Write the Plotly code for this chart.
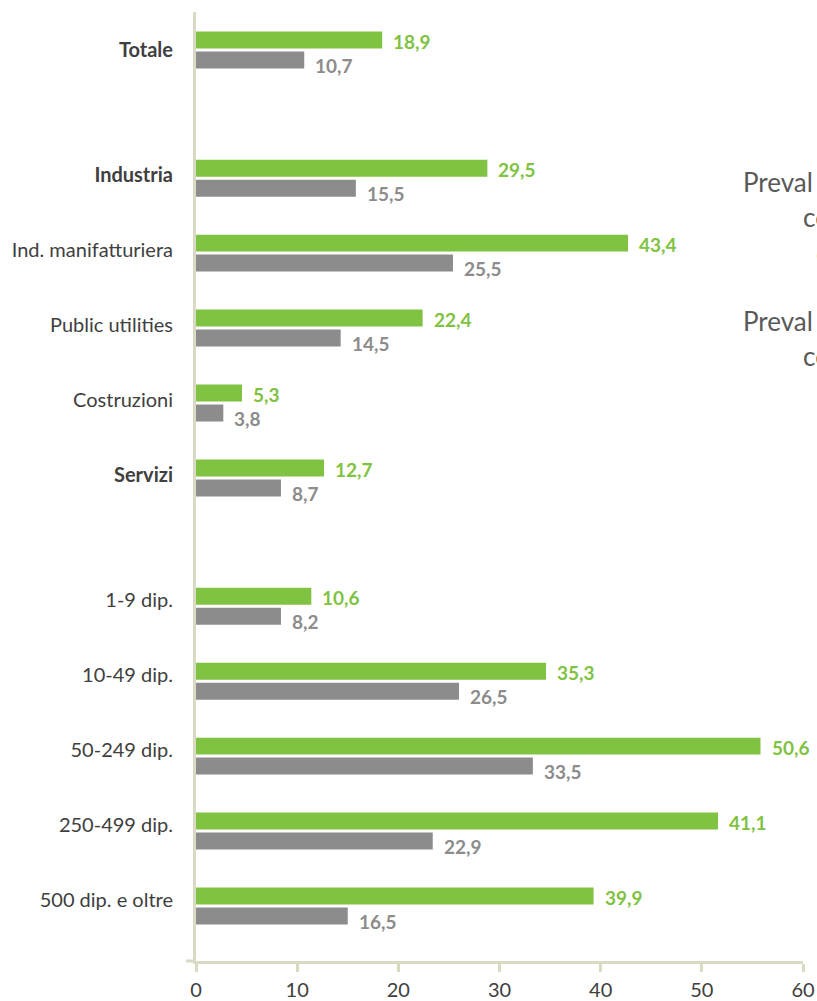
import plotly.graph_objects as go

# ---------------- data ----------------
categories = ["Totale", "Industria", "Ind. manifatturiera", "Public utilities", "Costruzioni",
              "Servizi", "1-9 dip.", "10-49 dip.", "50-249 dip.", "250-499 dip.", "500 dip. e oltre"]
bold_category = [True, True, False, False, False, True, False, False, False, False, False]
group_id = [0, 1, 1, 1, 1, 1, 2, 2, 2, 2, 2]

# bar lengths as drawn in the picture
green_values = [18.4, 28.8, 42.7, 22.4, 4.55, 12.65, 11.4, 34.6, 55.8, 51.6, 39.3]
gray_values = [10.7, 15.8, 25.4, 14.3, 2.7, 8.4, 8.4, 26.0, 33.3, 23.4, 15.0]

# data labels as printed in the picture
green_labels = ["18,9", "29,5", "43,4", "22,4", "5,3", "12,7", "10,6", "35,3", "50,6", "41,1", "39,9"]
gray_labels = ["10,7", "15,5", "25,5", "14,5", "3,8", "8,7", "8,2", "26,5", "33,5", "22,9", "16,5"]

x_ticks = [0, 10, 20, 30, 40, 50, 60]

# side legend text, cut by the right border of the picture
side_text_1 = ["Preval", "co", "o"]
side_text_2 = ["Preval", "co"]

# ---------------- styling ----------------
GREEN = "#80C241"
GRAY = "#8C8C8C"
AXIS = "#D9D9C4"
TEXT = "#404040"
FONT = "Lato"

# positions along the category axis (groups separated by a larger step)
def positions(step_between_groups):
    out, p = [], 0.0
    for i, g in enumerate(group_id):
        if i > 0:
            p += step_between_groups if g != group_id[i - 1] else 1.0
        out.append(p)
    return out

bar_pos = positions(1.71)
label_pos = positions(5.0 / 3.0)

fig = go.Figure()
fig.add_trace(go.Bar(orientation="h", y=bar_pos, x=green_values, marker_color=GREEN,
                     marker_line_width=0, hoverinfo="skip"))
fig.add_trace(go.Bar(orientation="h", y=bar_pos, x=gray_values, marker_color=GRAY,
                     marker_line_width=0, hoverinfo="skip"))

annotations = []
half = 0.153
for p, gv, gl, hv, hl in zip(bar_pos, green_values, green_labels, gray_values, gray_labels):
    annotations.append(dict(x=gv, y=p - half, xref="x", yref="y", text="<b>%s</b>" % gl,
                            showarrow=False, xanchor="left", yanchor="middle", xshift=9, yshift=-3,
                            font=dict(family=FONT, size=19, color=GREEN)))
    annotations.append(dict(x=hv, y=p + half, xref="x", yref="y", text="<b>%s</b>" % hl,
                            showarrow=False, xanchor="left", yanchor="middle", xshift=9, yshift=-4,
                            font=dict(family=FONT, size=19, color=GRAY)))

L, R, T, B = 196, 803, 12, 961.5
def px_x(px):
    return (px - L) / (R - L)
def px_y(py):
    return (B - py) / (B - T)

for txt, (x0, yc) in zip(side_text_1, [(741, 182), (801, 217), (814, 253)]):
    annotations.append(dict(x=px_x(x0), y=px_y(yc), xref="paper", yref="paper", text=txt,
                            showarrow=False, xanchor="left", yanchor="middle",
                            font=dict(family=FONT, size=26, color="#595959")))
for txt, (x0, yc) in zip(side_text_2, [(741, 321), (801, 356)]):
    annotations.append(dict(x=px_x(x0), y=px_y(yc), xref="paper", yref="paper", text=txt,
                            showarrow=False, xanchor="left", yanchor="middle",
                            font=dict(family=FONT, size=26, color="#595959")))

ticktext = ["<b>%s</b>" % c if b else c for c, b in zip(categories, bold_category)]

top_pad = (50 - T) / 75.0
bottom_pad = (B - 50) / 75.0

fig.update_layout(
    width=817, height=1001,
    margin=dict(l=L, r=817 - R, t=T, b=1001 - B, autoexpand=False),
    paper_bgcolor="white", plot_bgcolor="white",
    barmode="group", bargap=0.467, bargroupgap=0.15,
    showlegend=False,
    annotations=annotations,
    xaxis=dict(range=[0, 60], tickvals=x_ticks, ticktext=[str(v) for v in x_ticks],
               showgrid=False, zeroline=False, showline=True, linecolor=AXIS, linewidth=3,
               ticks="outside", ticklen=8, tickwidth=3, tickcolor=AXIS, automargin=False,
               tickfont=dict(family=FONT, size=20, color=TEXT), ticklabelstandoff=1),
    yaxis=dict(range=[bottom_pad, -top_pad], tickvals=label_pos, ticktext=ticktext,
               showgrid=False, zeroline=False, showline=True, linecolor=AXIS, linewidth=3,
               ticks="", automargin=False,
               tickfont=dict(family=FONT, size=20, color=TEXT), ticklabelstandoff=16),
    shapes=[dict(type="line", xref="paper", yref="paper", x0=-10 / (R - L), x1=0, y0=0, y1=0,
                 line=dict(color=AXIS, width=3))],
)

fig.write_html("out.html")
